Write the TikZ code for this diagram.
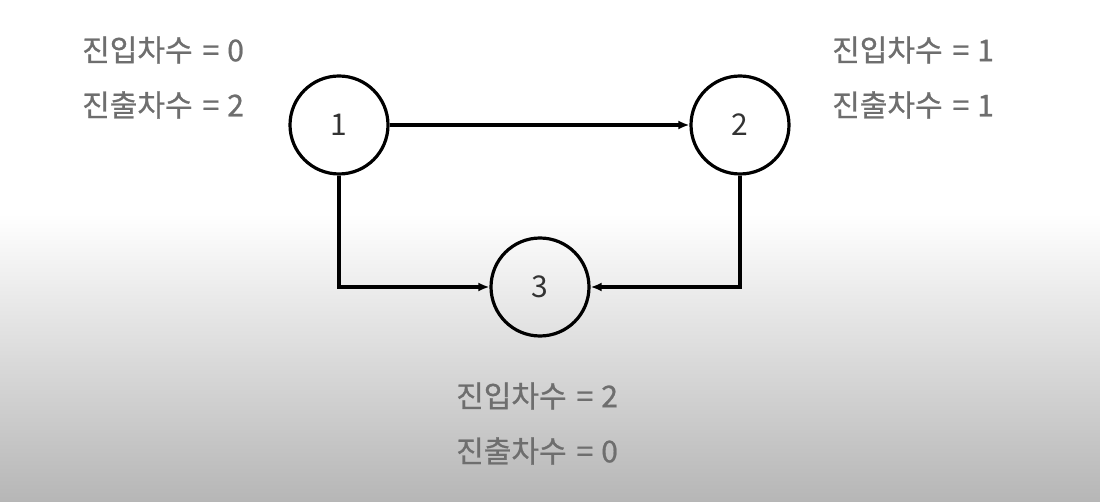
\documentclass[tikz,border=0pt]{standalone}
\usepackage{fontspec}
\setmainfont{Noto Sans CJK KR}[FakeBold=0.8]
\newfontfamily\numfont{Noto Sans CJK KR}
\usetikzlibrary{arrows.meta}
\definecolor{lbl}{HTML}{6E6E6E}
\definecolor{num}{HTML}{333333}
\definecolor{bgbot}{HTML}{B6B6B6}
\newcommand{\degtext}[2]{#1\hspace{10pt}=\hspace{8pt}#2}
\tikzset{
  vert/.style={circle, draw=black, line width=3.2pt, minimum size=98pt, inner sep=0pt, fill=none, text=num, font=\numfont\fontsize{30pt}{34pt}\selectfont},
  edge/.style={line width=3.2pt, -{Latex[length=11pt,width=9pt]}},
  lab/.style={anchor=west, text=lbl, inner sep=0pt, font=\fontsize{30pt}{34pt}\selectfont}
}
\begin{document}
\begin{tikzpicture}[x=1pt,y=-1pt]
\useasboundingbox (0,0) rectangle (1100,502);
\fill[white] (0,0) rectangle (1100,215);
\shade[top color=white, bottom color=bgbot] (0,214) rectangle (1100,502);
\node[vert] (n1) at (339,125) {1};
\node[vert] (n2) at (740,125) {2};
\node[vert] (n3) at (540,287) {3};
\draw[edge] (n1.east) -- (n2.west);
\draw[edge] (n1.south) |- (n3.west);
\draw[edge] (n2.south) |- (n3.east);
\node[lab] (l1a) at (82,50) {\degtext{진입차수}{0}};
\node[lab] (l1b) at (82,105) {\degtext{진출차수}{2}};
\node[lab] (l2a) at (832,50) {\degtext{진입차수}{1}};
\node[lab] (l2b) at (832,105) {\degtext{진출차수}{1}};
\node[lab] (l3a) at (456,396) {\degtext{진입차수}{2}};
\node[lab] (l3b) at (456,451) {\degtext{진출차수}{0}};
\end{tikzpicture}
\end{document}
